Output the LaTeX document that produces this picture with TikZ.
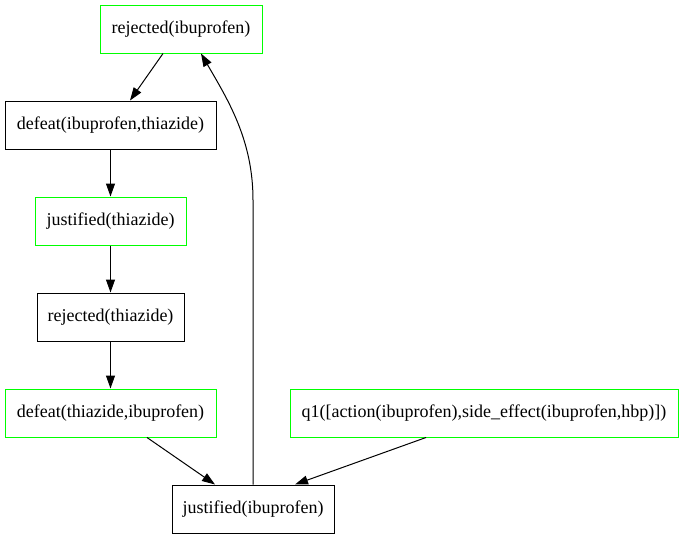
\documentclass[tikz,border=0pt]{standalone}
\usepackage{fontspec}
\setmainfont{Liberation Serif}
\usetikzlibrary{arrows.meta}
\definecolor{gvgreen}{RGB}{0,255,0}
\tikzset{
  x=1pt, y=1pt,
  box/.style={draw=black, line width=1pt, rectangle, minimum height=48pt, inner sep=0pt, font=\fontsize{18}{21}\selectfont},
  gbox/.style={box, draw=gvgreen},
  edge/.style={line width=1pt, -{Triangle[length=13pt,width=9pt]}}
}
\begin{document}
\begin{tikzpicture}
\useasboundingbox (0,0) rectangle (683,-539);
\node[gbox, minimum width=162pt] (rib) at (181,-29) {rejected(ibuprofen)};
\node[box, minimum width=211pt] (dit) at (110.5,-125) {defeat(ibuprofen,thiazide)};
\node[gbox, minimum width=151pt] (jt) at (110.5,-221) {justified(thiazide)};
\node[box, minimum width=147pt] (rt) at (110.5,-317) {rejected(thiazide)};
\node[gbox, minimum width=211pt] (dti) at (110.5,-413) {defeat(thiazide,ibuprofen)};
\node[gbox, minimum width=388pt] (q1) at (484,-413) {q1([action(ibuprofen),side\_effect(ibuprofen,hbp)])};
\node[box, minimum width=162pt] (ji) at (253,-509) {justified(ibuprofen)};

\draw[edge] ([xshift=-18pt]rib.south) -- ([xshift=19.5pt]dit.north);
\draw[edge] (dit) -- (jt);
\draw[edge] (jt) -- (rt);
\draw[edge] (rt) -- (dti);
\draw[edge] ([xshift=36.5pt]dti.south) -- ([xshift=-38pt]ji.north);
\draw[edge] ([xshift=-58pt]q1.south) -- ([xshift=42pt]ji.north);
\coordinate (bend) at (253,-200);
\draw[edge] (ji.north) -- (bend) .. controls (253,-140) and (228,-100) .. ([xshift=20pt]rib.south);
\end{tikzpicture}
\end{document}
